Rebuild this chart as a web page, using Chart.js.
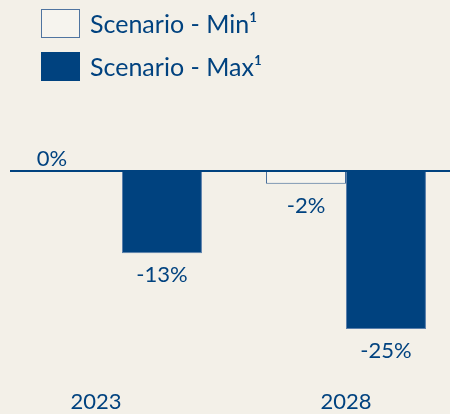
<!DOCTYPE html>
<html>
<head>
<meta charset="utf-8">
<script src="https://cdn.jsdelivr.net/npm/chart.js@4"></script>
<style>
  html, body { margin: 0; padding: 0; background: #f3f0e8; }
  #wrap { position: relative; width: 450px; height: 414px; overflow: hidden; }
  #chart { position: absolute; left: 0; top: 0; }
  .legend { position: absolute; left: 41px; font-family: Lato, sans-serif; font-size: 25px; color: #00427f; }
  .legend .box { position: absolute; left: 0; width: 37px; height: 27px; border: 1px solid #4f74a0; }
  .legend span { position: absolute; left: 49px; white-space: nowrap; line-height: 1; }
</style>
</head>
<body>
<div id="wrap">
  <canvas id="chart" width="460" height="414"></canvas>
  <div class="legend" style="top:9px">
    <div class="box" style="background:#f6f4ee"></div>
    <span style="top:2px">Scenario - Min¹</span>
  </div>
  <div class="legend" style="top:52px">
    <div class="box" style="background:#00427f;border-color:#00427f"></div>
    <span style="top:2px">Scenario - Max¹</span>
  </div>
</div>
<script>
const years = ['2023', '2028'];
const scenarioMin = [null, -2];
const scenarioMax = [-13, -25];

const BLUE = '#00427f';
const FONT = '22px Lato, sans-serif';

// zero line, value labels and year labels drawn on top of the bars
const annotate = {
    id: 'annotate',
    afterDatasetsDraw(chart) {
        const ctx = chart.ctx;
        const area = chart.chartArea;
        const y0 = chart.scales.y.getPixelForValue(0);

        ctx.save();
        ctx.strokeStyle = BLUE;
        ctx.lineWidth = 2;
        ctx.beginPath();
        ctx.moveTo(area.left, y0);
        ctx.lineTo(area.right, y0);
        ctx.stroke();

        ctx.fillStyle = BLUE;
        ctx.font = FONT;
        ctx.textAlign = 'center';
        ctx.textBaseline = 'middle';
        ctx.fillText('0%', area.left + 42, y0 - 12);

        chart.data.datasets.forEach((ds, i) => {
            chart.getDatasetMeta(i).data.forEach((bar, j) => {
                const v = ds.data[j];
                if (v === null) return;
                ctx.fillText(v + '%', bar.x, bar.y + 22);
            });
        });

        // year labels under each group
        const shift = [-26, 0];
        years.forEach((yr, j) => {
            ctx.fillText(yr, chart.scales.x.getPixelForValue(j) + shift[j], 402);
        });
        ctx.restore();
    }
};

new Chart(document.getElementById('chart').getContext('2d'), {
    type: 'bar',
    data: {
        labels: years,
        datasets: [
            {
                label: 'Scenario - Min¹',
                data: scenarioMin,
                backgroundColor: '#f6f4ee',
                borderColor: '#3f6897',
                borderWidth: 1
            },
            {
                label: 'Scenario - Max¹',
                data: scenarioMax,
                backgroundColor: BLUE,
                borderColor: '#5a7fab',
                borderWidth: 1
            }
        ]
    },
    plugins: [annotate],
    options: {
        responsive: false,
        animation: false,
        layout: { padding: { left: 10, right: 2, top: 171, bottom: 85 } },
        datasets: { bar: { categoryPercentage: 0.714, barPercentage: 1 } },
        scales: {
            x: { display: false },
            y: { display: false, min: -25, max: 0 }
        },
        plugins: {
            legend: { display: false },
            tooltip: { enabled: false }
        }
    }
});
</script>
</body>
</html>
